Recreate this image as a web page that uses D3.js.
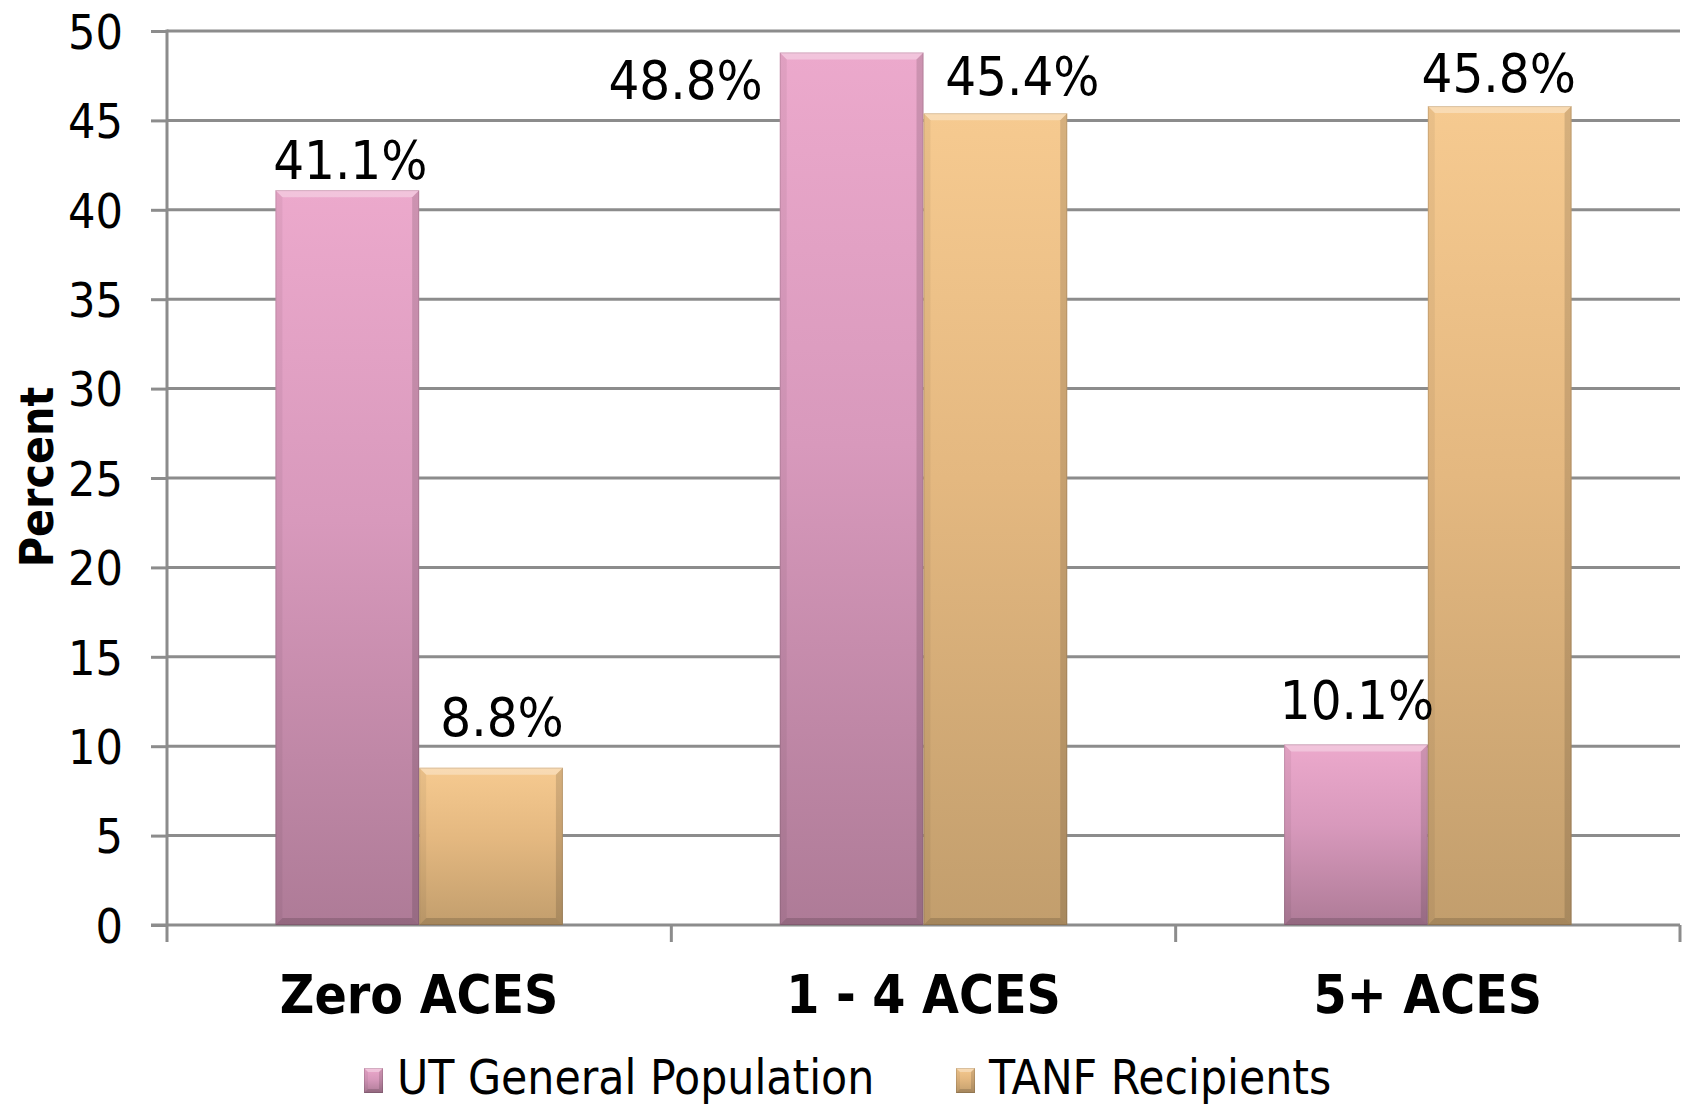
<!DOCTYPE html>
<html>
<head>
<meta charset="utf-8">
<script src="https://cdn.jsdelivr.net/npm/d3@7"></script>
<style>
  html, body { margin: 0; padding: 0; background: #fff; }
  svg { display: block; }
  text { font-family: "DejaVu Sans Condensed", "DejaVu Sans", sans-serif; font-stretch: condensed; fill: #000; }
</style>
</head>
<body>
<svg id="chart" width="1688" height="1105"></svg>
<script>
// ---- data ----
const categories = ["Zero ACES", "1 - 4 ACES", "5+ ACES"];
const seriesNames = ["UT General Population", "TANF Recipients"];
const utGeneral = [41.1, 48.8, 10.1];
const tanfRecipients = [8.8, 45.4, 45.8];
const yTicks = [0, 5, 10, 15, 20, 25, 30, 35, 40, 45, 50];
const yTitle = "Percent";

// ---- layout ----
const W = 1688, H = 1105;
const margin = { top: 31, right: 8, bottom: 180, left: 167 };
const plotW = W - margin.left - margin.right;
const plotH = H - margin.top - margin.bottom;

// per-series look: vertical gradient stops
const palette = [
  { top: "#eca9cc", mid: "#d899bc", bottom: "#ae7b97" },
  { top: "#f6ca90", mid: "#e4b880", bottom: "#c29e6d" }
];

// hand placement of the value labels relative to each bar's top centre
const labelNudge = [
  [[3, -11], [11, -32]],
  [[-166, 47], [27, -18]],
  [[1, -25], [-1, -14]]
];

const svg = d3.select("#chart");
const defs = svg.append("defs");
palette.forEach((p, i) => {
  const g = defs.append("linearGradient")
    .attr("id", "grad" + i)
    .attr("x1", 0).attr("y1", 0).attr("x2", 0).attr("y2", 1);
  g.append("stop").attr("offset", "0%").attr("stop-color", p.top);
  g.append("stop").attr("offset", "45%").attr("stop-color", p.mid);
  g.append("stop").attr("offset", "100%").attr("stop-color", p.bottom);
});

const root = svg.append("g").attr("transform", `translate(${margin.left},${margin.top})`);

const y = d3.scaleLinear().domain([0, 50]).range([plotH, 0]);
const x0 = d3.scaleBand().domain(categories).range([0, plotW])
  .paddingInner(0.43).paddingOuter(0.215);
const x1 = d3.scaleBand().domain(seriesNames).range([0, x0.bandwidth()]).padding(0);

const seriesValues = [utGeneral, tanfRecipients];

// ---- gridlines ----
root.append("g").selectAll("line").data(yTicks.filter(t => t > 0)).join("line")
  .attr("x1", 0).attr("x2", plotW)
  .attr("y1", d => y(d)).attr("y2", d => y(d))
  .attr("stroke", "#8c8c8c").attr("stroke-width", 3);

// ---- y axis ----
const yAxis = d3.axisLeft(y).tickValues(yTicks).tickSize(16).tickPadding(28).tickFormat(d3.format("d"));
const yg = root.append("g").call(yAxis);
yg.select(".domain").remove();
yg.selectAll(".tick line").attr("stroke", "#8c8c8c").attr("stroke-width", 3);
yg.selectAll(".tick text").attr("font-size", 48).attr("font-family", null).attr("dy", "0.36em");
// vertical axis line, running down to the category tick length
root.append("line").attr("x1", 0).attr("x2", 0).attr("y1", y(50) - 1.5).attr("y2", plotH + 17)
  .attr("stroke", "#8c8c8c").attr("stroke-width", 3);

// ---- x axis ----
root.append("line").attr("x1", -16).attr("x2", plotW).attr("y1", plotH).attr("y2", plotH)
  .attr("stroke", "#8c8c8c").attr("stroke-width", 3);
const boundaries = d3.range(categories.length + 1).map(i => i * x0.step());
root.append("g").selectAll("line").data(boundaries.slice(1)).join("line")
  .attr("x1", d => d).attr("x2", d => d)
  .attr("y1", plotH).attr("y2", plotH + 17)
  .attr("stroke", "#8c8c8c").attr("stroke-width", 3);

root.append("g").selectAll("text").data(categories).join("text")
  .attr("x", d => x0(d) + x0.bandwidth() / 2)
  .attr("y", plotH + 88)
  .attr("text-anchor", "middle")
  .attr("font-size", 53).attr("font-weight", "bold")
  .text(d => d);

// ---- bevelled bars ----
function bevelBar(g, x, yTop, w, h, si, bevel = 7) {
  const b = Math.min(bevel, h / 2, w / 2);
  g.append("rect").attr("x", x).attr("y", yTop).attr("width", w).attr("height", h)
    .attr("fill", `url(#grad${si})`);
  const pts = a => a.map(p => p.join(",")).join(" ");
  const x2 = x + w, y2 = yTop + h;
  g.append("polygon").attr("points", pts([[x, yTop], [x2, yTop], [x2 - b, yTop + b], [x + b, yTop + b]]))
    .attr("fill", "#fff").attr("fill-opacity", 0.32);
  g.append("polygon").attr("points", pts([[x, yTop], [x + b, yTop + b], [x + b, y2 - b], [x, y2]]))
    .attr("fill", "#000").attr("fill-opacity", 0.05);
  g.append("polygon").attr("points", pts([[x2, yTop], [x2 - b, yTop + b], [x2 - b, y2 - b], [x2, y2]]))
    .attr("fill", "#000").attr("fill-opacity", 0.13);
  g.append("polygon").attr("points", pts([[x, y2], [x + b, y2 - b], [x2 - b, y2 - b], [x2, y2]]))
    .attr("fill", "#000").attr("fill-opacity", 0.15);
  g.append("rect").attr("x", x + 0.5).attr("y", yTop + 0.5).attr("width", w - 1).attr("height", h - 1)
    .attr("fill", "none").attr("stroke", "#000").attr("stroke-opacity", 0.12);
}

const barLayer = root.append("g");
const labelLayer = root.append("g");
categories.forEach((cat, ci) => {
  seriesNames.forEach((s, si) => {
    const v = seriesValues[si][ci];
    const bx = x0(cat) + x1(s);
    const bw = x1.bandwidth();
    bevelBar(barLayer.append("g"), bx, y(v), bw, y(0) - y(v), si);
    const [dx, dy] = labelNudge[ci][si];
    labelLayer.append("text")
      .attr("x", bx + bw / 2 + dx)
      .attr("y", y(v) + dy)
      .attr("text-anchor", "middle")
      .attr("font-size", 54)
      .text(d3.format(".1f")(v) + "%");
  });
});

// ---- y title ----
svg.append("text")
  .attr("transform", `translate(53,477) rotate(-90)`)
  .attr("text-anchor", "middle")
  .attr("font-size", 46).attr("font-weight", "bold")
  .text(yTitle);

// ---- legend ----
const legendItems = [{ name: seriesNames[0], x: 364 }, { name: seriesNames[1], x: 956 }];
const lg = svg.append("g");
legendItems.forEach((it, si) => {
  const g = lg.append("g");
  bevelBar(g, it.x, 1068, 19, 25, si, 4);
  g.append("text").attr("x", it.x + 33).attr("y", 1094)
    .attr("font-size", 47.5).text(it.name);
});
</script>
</body>
</html>
